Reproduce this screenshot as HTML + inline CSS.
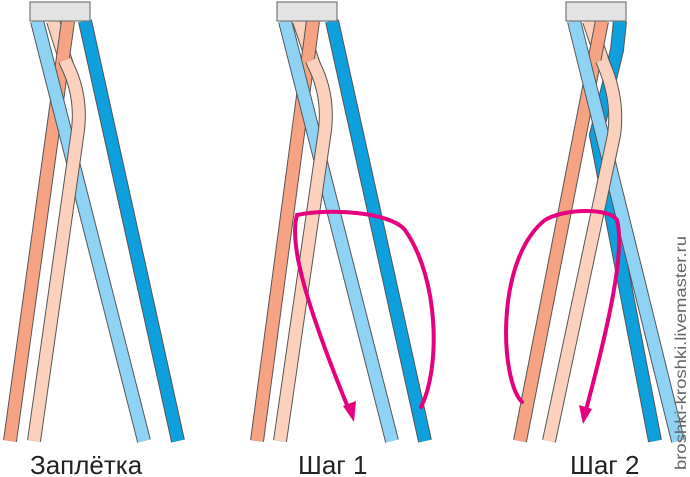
<!DOCTYPE html>
<html><head><meta charset="utf-8"><style>
html,body{margin:0;padding:0;background:#fff;}
svg{display:block;}
</style></head><body>
<svg width="690" height="477" viewBox="0 0 690 477" xmlns="http://www.w3.org/2000/svg">
<defs>
<style>
.o{fill:none;stroke:#555;stroke-width:14;stroke-linecap:butt;stroke-linejoin:round}
.lb{fill:none;stroke:#8fd3f4;stroke-width:12}
.db{fill:none;stroke:#0ea0dc;stroke-width:12}
.sa{fill:none;stroke:#f5a383;stroke-width:12}
.pe{fill:none;stroke:#fbd1bd;stroke-width:12}
.pk{fill:none;stroke:#e5007d;stroke-width:4;stroke-linecap:round}
</style>
</defs>
<!-- Panel 1 -->
<g>
<path class="o" d="M53,21 L67,65"/><path class="pe" d="M53,21 L67,65"/>
<path class="o" d="M68,21 L10,441"/><path class="sa" d="M68,21 L10,441"/>
<path class="o" d="M37,21 L144,441"/><path class="lb" d="M37,21 L144,441"/>
<path class="o" d="M65,60 L67,65 Q82,95 78,130 L34,441"/><path class="pe" d="M65,60 L67,65 Q82,95 78,130 L34,441"/>
<path class="o" d="M85,21 L178,441"/><path class="db" d="M85,21 L178,441"/>
<rect x="30" y="2" width="60" height="19" fill="#e3e3e3" stroke="#777" stroke-width="1.2"/>
</g>
<!-- Panel 2 -->
<g>
<path class="o" d="M299,21 L314,65"/><path class="pe" d="M299,21 L314,65"/>
<path class="o" d="M313,21 L257,441"/><path class="sa" d="M313,21 L257,441"/>
<path class="o" d="M285,21 L392,441"/><path class="lb" d="M285,21 L392,441"/>
<path class="o" d="M312,60 L314,65 Q329,95 325,130 L280,441"/><path class="pe" d="M312,60 L314,65 Q329,95 325,130 L280,441"/>
<path class="o" d="M332,21 L425,441"/><path class="db" d="M332,21 L425,441"/>
<rect x="277" y="2" width="60" height="19" fill="#e3e3e3" stroke="#777" stroke-width="1.2"/>
<path class="pk" d="M421,407 C440,370 440,280 405,230 C390,212 330,208 297,215 C290,240 300,290 349,410"/>
<polygon points="343,406 356,401 354,422" fill="#e5007d"/>
</g>
<!-- Panel 3 -->
<g>
<path class="o" d="M620,21 L617,50 Q605,100 596,135 L655,441"/><path class="db" d="M620,21 L617,50 Q605,100 596,135 L655,441"/>
<path class="o" d="M589,21 L604,65"/><path class="pe" d="M589,21 L604,65"/>
<path class="o" d="M602,21 L520,441"/><path class="sa" d="M602,21 L520,441"/>
<path class="o" d="M574,21 L678,441"/><path class="lb" d="M574,21 L678,441"/>
<path class="o" d="M602,60 L604,65 Q619,100 614,135 L549,441"/><path class="pe" d="M602,60 L604,65 Q619,100 614,135 L549,441"/>
<rect x="566" y="2" width="60" height="19" fill="#e3e3e3" stroke="#777" stroke-width="1.2"/>
<path class="pk" d="M522,402 C500,380 495,260 545,220 C565,208 610,208 617,220 C625,250 610,320 586,410"/>
<polygon points="579,405 592,409 583,424" fill="#e5007d"/>
</g>
<g font-family="Liberation Sans, DejaVu Sans, sans-serif" fill="#222" font-size="26">
<text x="30" y="474">Заплётка</text>
<text x="298" y="474">Шаг 1</text>
<text x="570" y="474">Шаг 2</text>
</g>
<text transform="translate(686,470) rotate(-90)" font-family="Liberation Sans, DejaVu Sans, sans-serif" font-size="16" fill="#666" textLength="234" lengthAdjust="spacingAndGlyphs">broshki-kroshki.livemaster.ru</text>
</svg>
</body></html>
